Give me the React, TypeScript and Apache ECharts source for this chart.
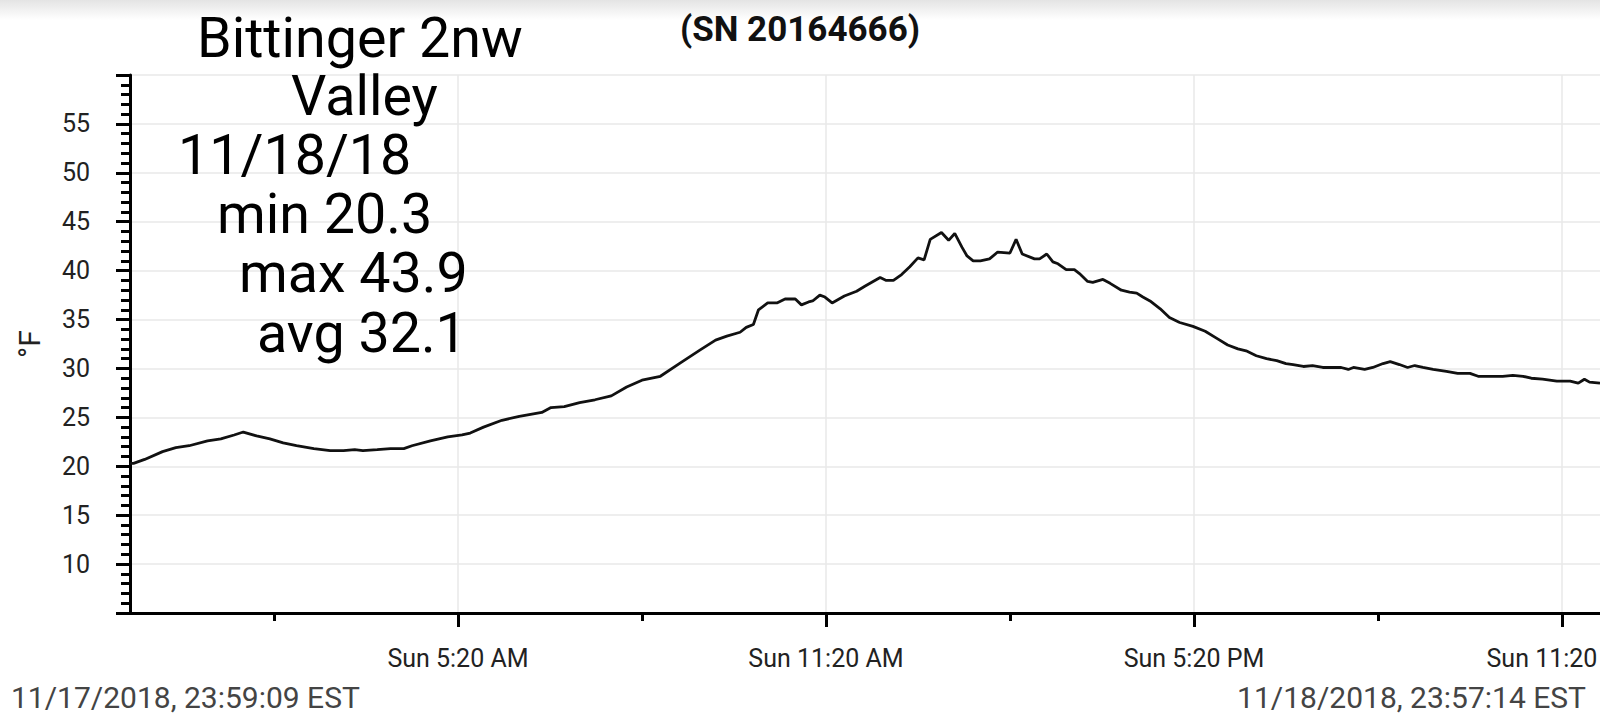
import React, { useEffect, useRef } from "react";
import * as echarts from "echarts";

// ---- text content ----
const stationLines = ["Bittinger 2nw", "Valley", "11/18/18", "min 20.3", "max 43.9", "avg 32.1"];
const serialLabel = "(SN 20164666)";
const startLabel = "11/17/2018, 23:59:09 EST";
const endLabel = "11/18/2018, 23:57:14 EST";
const yAxisName = "°F";

// ---- data: minutes since midnight 11/18/2018 (EST) and temperature °F ----
const minutes = [
  -0.85, 2.6, 13.5, 31, 44, 57, 75, 88, 101, 110,
  123, 136, 149, 162, 179, 195, 208, 219, 227, 241,
  254, 267, 275, 293, 310, 324, 332, 345, 363, 380,
  402, 411, 424, 439, 454, 470, 485, 500, 518, 538,
  557, 572, 583, 596, 602, 609, 614, 623, 632, 640,
  650, 656, 663, 667, 674, 679, 686, 698, 710, 718,
  733, 739, 746, 754, 762, 770, 776, 782, 793, 800,
  806, 813, 818, 824, 831, 840, 848, 860, 866, 872,
  884, 889, 896, 902, 907, 915, 923, 928, 936, 941,
  951, 958, 969, 977, 984, 990, 997, 1007, 1016, 1026,
  1039, 1051, 1062, 1073, 1083, 1091, 1101, 1111, 1121, 1130,
  1137, 1147, 1156, 1166, 1178, 1184, 1191, 1196, 1207, 1215,
  1225, 1232, 1241, 1249, 1256, 1264, 1274, 1287, 1298, 1310,
  1318, 1329, 1342, 1352, 1362, 1370, 1381, 1395, 1408, 1416,
  1422, 1427, 1437.23,
];
const temps = [
  20.3, 20.3, 20.7, 21.5, 21.9, 22.1, 22.6, 22.8, 23.2, 23.5,
  23.1, 22.8, 22.4, 22.1, 21.8, 21.6, 21.6, 21.7, 21.6, 21.7,
  21.8, 21.8, 22.1, 22.6, 23.0, 23.2, 23.4, 24.0, 24.7, 25.1,
  25.5, 26.0, 26.1, 26.5, 26.8, 27.2, 28.1, 28.8, 29.2, 30.6,
  31.9, 32.9, 33.3, 33.7, 34.2, 34.5, 36.0, 36.7, 36.7, 37.1,
  37.1, 36.5, 36.8, 36.9, 37.5, 37.3, 36.7, 37.4, 37.9, 38.4,
  39.3, 39.0, 39.0, 39.6, 40.4, 41.3, 41.1, 43.2, 43.9, 43.1,
  43.8, 42.4, 41.5, 41.0, 41.0, 41.2, 41.9, 41.8, 43.2, 41.7,
  41.2, 41.2, 41.7, 40.9, 40.7, 40.1, 40.1, 39.7, 38.9, 38.8,
  39.1, 38.7, 38.0, 37.8, 37.7, 37.3, 36.9, 36.1, 35.2, 34.7,
  34.3, 33.8, 33.1, 32.4, 32.0, 31.8, 31.3, 31.0, 30.8, 30.5,
  30.4, 30.2, 30.3, 30.1, 30.1, 30.1, 29.9, 30.1, 29.9, 30.1,
  30.5, 30.7, 30.4, 30.1, 30.3, 30.1, 29.9, 29.7, 29.5, 29.5,
  29.2, 29.2, 29.2, 29.3, 29.2, 29.0, 28.9, 28.7, 28.7, 28.5,
  28.9, 28.6, 28.5,
];

// ---- axes ----
const xMin = -0.85;
const xMax = 1437.23;
const majorTicks = [320, 680, 1040, 1400];
const minorTicks = [140, 500, 860, 1220];
const yMin = 5;
const yMax = 60;
const yStep = 5;

const FONT = "Roboto";

function fmtTime(v: number): string {
  const total = Math.round(v);
  const h24 = Math.floor(total / 60) % 24;
  const m = total % 60;
  const ampm = h24 < 12 ? "AM" : "PM";
  let h = h24 % 12;
  if (h === 0) h = 12;
  const base = `Sun ${h}:${m < 10 ? "0" + m : m}`;
  // the last label sits against the chart's right edge, where only "Sun 11:20" is visible
  if (v === majorTicks[majorTicks.length - 1]) return `{edge|${base}}`;
  return `${base} ${ampm}`;
}

export default function App() {
  const ref = useRef<HTMLDivElement>(null);

  useEffect(() => {
    if (!ref.current) return;
    const chart = echarts.init(ref.current, null, { renderer: "svg" });
    const data = minutes.map((t, i) => [t, temps[i]]);

    const lineX = [197, 291, 178, 217, 239, 257];
    const lineY = [38, 96, 155, 214, 273, 333];

    const graphics: any[] = [
      {
        type: "rect",
        shape: { x: 0, y: 0, width: 1600, height: 20 },
        style: {
          fill: new echarts.graphic.LinearGradient(0, 0, 0, 1, [
            { offset: 0, color: "#e4e4e4" },
            { offset: 1, color: "#ffffff" },
          ]),
        },
        silent: true,
        z: -1,
      },
      {
        type: "text",
        x: 800,
        y: 29,
        style: {
          text: serialLabel,
          fontSize: 35,
          fontWeight: "bold",
          fontFamily: FONT,
          fill: "#111",
          align: "center",
          verticalAlign: "middle",
        },
      },
      {
        type: "text",
        x: 11,
        y: 697,
        style: {
          text: startLabel,
          fontSize: 30,
          fontFamily: FONT,
          fill: "#444",
          align: "left",
          verticalAlign: "middle",
        },
      },
      {
        type: "text",
        x: 1586,
        y: 697,
        style: {
          text: endLabel,
          fontSize: 30,
          fontFamily: FONT,
          fill: "#444",
          align: "right",
          verticalAlign: "middle",
        },
      },
    ];
    stationLines.forEach((t, i) => {
      graphics.push({
        type: "text",
        x: lineX[i],
        y: lineY[i],
        z: 10,
        style: {
          text: t,
          fontSize: 55.6,
          lineHeight: 56,
          fontFamily: FONT,
          fill: "#000",
          align: "left",
          verticalAlign: "middle",
        },
      });
    });

    chart.setOption({
      animation: false,
      backgroundColor: "#ffffff",
      grid: {
        left: 130,
        right: 0,
        top: 75,
        bottom: 113,
        containLabel: false,
        outerBoundsMode: "none",
      },
      xAxis: [
        {
          type: "value",
          min: xMin,
          max: xMax,
          position: "bottom",
          axisLine: { show: true, onZero: false, lineStyle: { color: "#000", width: 3 } },
          axisTick: {
            show: true,
            customValues: majorTicks,
            length: 14,
            inside: false,
            lineStyle: { color: "#000", width: 3 },
          },
          axisLabel: {
            show: true,
            customValues: majorTicks,
            formatter: (v: number) => fmtTime(v),
            fontSize: 25,
            fontFamily: FONT,
            color: "#222",
            margin: 33,
            hideOverlap: false,
            rich: {
              edge: {
                fontSize: 25,
                fontFamily: FONT,
                color: "#222",
                padding: [0, 40, 0, 0],
              },
            },
          },
          splitLine: { show: true, lineStyle: { color: "#e8e8e8", width: 1.5 } },
        },
        {
          type: "value",
          min: xMin,
          max: xMax,
          position: "bottom",
          axisLine: { show: false, onZero: false },
          axisTick: {
            show: true,
            customValues: minorTicks,
            length: 8,
            lineStyle: { color: "#000", width: 3 },
          },
          axisLabel: { show: false },
          splitLine: { show: false },
        },
      ],
      yAxis: {
        type: "value",
        min: yMin,
        max: yMax,
        interval: yStep,
        name: yAxisName,
        nameLocation: "middle",
        nameRotate: 90,
        nameGap: 86,
        nameTextStyle: { fontSize: 30, fontFamily: FONT, color: "#222" },
        axisLine: { show: true, onZero: false, lineStyle: { color: "#000", width: 3 } },
        axisTick: { show: true, length: 14, lineStyle: { color: "#000", width: 3 } },
        minorTick: { show: true, splitNumber: 5, length: 9, lineStyle: { color: "#000", width: 3 } },
        axisLabel: {
          formatter: (v: number) => (v === yMin || v === yMax ? "" : String(v)),
          fontSize: 25,
          fontFamily: FONT,
          color: "#222",
          margin: 40,
        },
        splitLine: { show: true, lineStyle: { color: "#e8e8e8", width: 1.5 } },
      },
      series: [
        {
          type: "line",
          xAxisIndex: 0,
          data,
          showSymbol: false,
          symbol: "none",
          lineStyle: { color: "#111", width: 2.8 },
          z: 3,
        },
      ],
      graphic: graphics,
    });

    return () => chart.dispose();
  }, []);

  return (
    <div
      ref={ref}
      style={{ position: "fixed", left: 0, top: 0, width: 1600, height: 726, background: "#fff" }}
    />
  );
}
